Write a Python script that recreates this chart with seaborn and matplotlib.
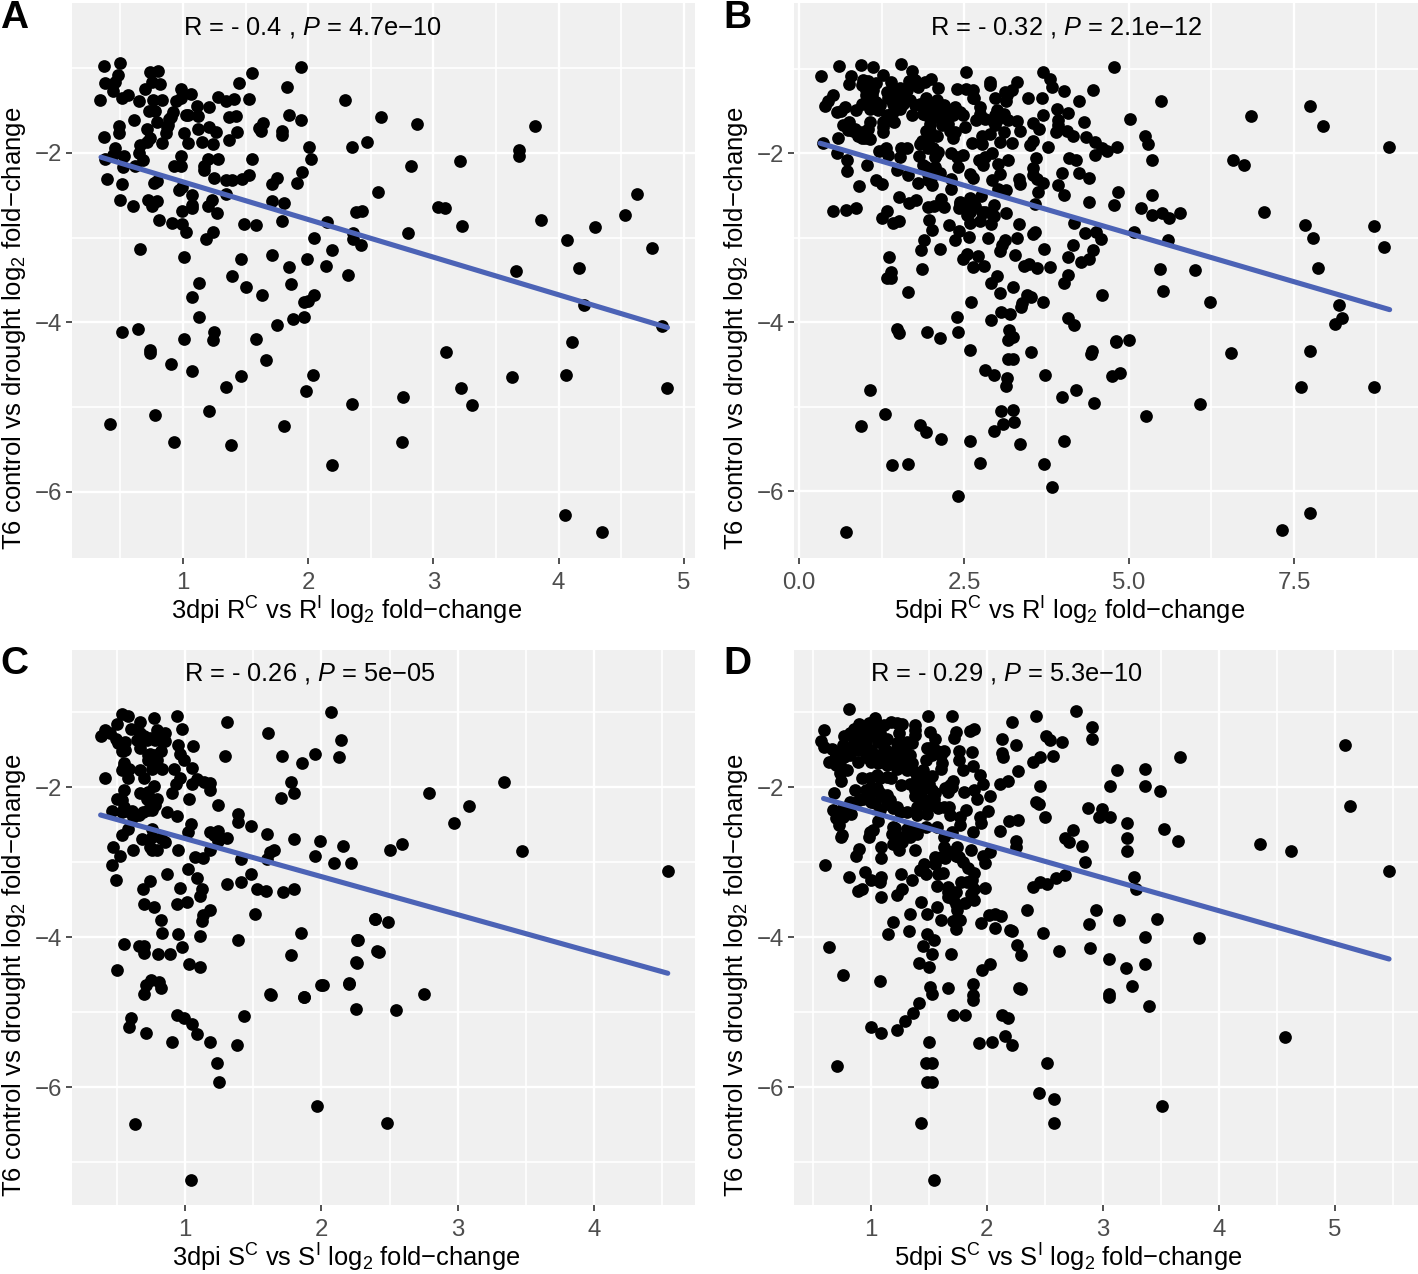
import numpy as np
import pandas as pd
import matplotlib
matplotlib.use("Agg")
import matplotlib.pyplot as plt
import seaborn as sns

a_points = [(0.365,-0.97),(0.50,-0.94),(0.48,-1.08),(0.74,-1.05),(0.80,-1.03),(0.38,-1.18),(0.46,-1.16),(0.44,-1.27),(0.75,-1.16),(0.82,-1.19),(0.70,-1.25),(0.98,-1.24),(1.06,-1.30),(0.34,-1.37),(0.51,-1.35),(0.56,-1.31),(0.65,-1.39),(0.76,-1.38),(0.83,-1.38),(0.98,-1.35),(0.94,-1.39),(1.11,-1.44),(1.21,-1.46),(1.28,-1.34),(1.34,-1.39),(1.41,-1.36),(1.53,-1.36),(1.45,-1.17),(1.55,-1.06),(1.83,-1.22),(1.94,-0.99),(2.29,-1.37),(2.58,-1.58),(1.85,-1.55),(1.94,-1.61),(0.73,-1.50),(0.78,-1.51),(0.92,-1.52),(1.02,-1.55),(1.04,-1.55),(1.12,-1.56),(0.89,-1.60),(0.79,-1.63),(0.61,-1.61),(0.49,-1.68),(0.49,-1.76),(0.71,-1.72),(0.87,-1.69),(0.86,-1.77),(1.01,-1.77),(1.12,-1.72),(1.21,-1.69),(1.26,-1.75),(1.37,-1.58),(1.42,-1.56),(1.43,-1.75),(1.64,-1.65),(1.61,-1.71),(1.62,-1.74),(1.79,-1.74),(1.79,-1.79),(0.37,-1.81),(0.74,-1.82),(0.71,-1.87),(0.66,-1.90),(0.83,-1.88),(1.04,-1.88),(1.15,-1.87),(1.24,-1.89),(1.37,-1.85),(2.01,-1.93),(2.35,-1.93),(2.47,-1.87),(0.46,-1.94),(0.65,-2.0),(0.44,-2.02),(0.98,-2.03),(0.53,-2.04),(0.38,-2.07),(0.68,-2.08),(1.20,-2.07),(1.28,-2.07),(1.55,-2.07),(2.02,-2.07),(0.52,-2.17),(0.62,-2.15),(0.98,-2.15),(0.93,-2.15),(1.17,-2.15),(1.17,-2.20),(1.95,-2.23),(0.39,-2.31),(0.51,-2.37),(1.25,-2.30),(1.34,-2.32),(1.39,-2.32),(1.47,-2.31),(1.53,-2.26),(1.75,-2.30),(1.71,-2.37),(1.91,-2.36),(0.79,-2.33),(0.77,-2.36),(0.99,-2.40),(0.97,-2.44),(2.56,-2.46),(1.07,-2.50),(1.34,-2.49),(0.50,-2.56),(0.60,-2.63),(0.72,-2.56),(0.79,-2.57),(0.75,-2.63),(1.23,-2.56),(1.71,-2.57),(1.81,-2.59),(1.07,-2.61),(1.07,-2.65),(1.20,-2.62),(0.99,-2.69),(1.27,-2.71),(2.43,-2.69),(2.38,-2.70),(0.81,-2.79),(0.91,-2.83),(0.99,-2.84),(1.02,-2.93),(1.49,-2.84),(1.58,-2.85),(1.79,-2.80),(2.15,-2.82),(1.24,-2.93),(1.18,-3.02),(2.36,-2.95),(2.05,-3.0),(2.36,-3.01),(2.42,-3.09),(2.19,-3.14),(0.66,-3.13),(1.01,-3.23),(1.46,-3.25),(1.71,-3.20),(1.99,-3.25),(1.85,-3.34),(2.14,-3.33),(2.32,-3.44),(1.39,-3.45),(1.13,-3.53),(1.50,-3.58),(1.86,-3.55),(1.07,-3.70),(1.63,-3.68),(2.05,-3.68),(1.97,-3.76),(2.0,-3.75),(1.13,-3.93),(1.75,-4.03),(1.88,-3.96),(1.97,-3.94),(0.51,-4.11),(0.64,-4.08),(1.01,-4.19),(1.25,-4.11),(1.24,-4.21),(1.58,-4.20),(0.74,-4.33),
(2.87,-1.66),(2.82,-2.15),(3.21,-2.09),(3.81,-1.68),(3.68,-1.96),(3.68,-2.03),(3.04,-2.64),(3.09,-2.65),(3.23,-2.86),(2.80,-2.94),(3.86,-2.79),(4.07,-3.03),(4.29,-2.87),(4.53,-2.73),(4.63,-2.48),(4.75,-3.12),(3.66,-3.39),(4.16,-3.36),(4.20,-3.79),(4.83,-4.04),(4.11,-4.23),(3.10,-4.35),(4.06,-4.62),(3.63,-4.64),(4.87,-4.77),(3.22,-4.77),(3.31,-4.98),(2.76,-4.88),(2.35,-4.96),(2.75,-5.41),(2.19,-5.68),(1.81,-5.22),(1.38,-5.45),(0.93,-5.41),(0.42,-5.20),(0.78,-5.09),(1.21,-5.04),(1.34,-4.76),(1.46,-4.63),(1.07,-4.57),(0.90,-4.49),(0.74,-4.36),(1.66,-4.44),(1.98,-4.81),(2.04,-4.62),(4.05,-6.27),(4.35,-6.47),(0.88,-1.67),(0.90,-1.57)]

b_points = [(0.34,-1.08),(0.60,-0.96),(0.94,-0.95),(1.12,-0.98),(1.55,-0.94),(1.71,-1.02),(1.27,-1.07),(0.79,-1.08),(0.76,-1.18),(0.97,-1.13),(1.05,-1.14),(0.95,-1.19),(1.01,-1.25),(1.16,-1.17),(1.40,-1.15),(1.67,-1.14),(1.76,-1.13),(2.0,-1.12),(1.91,-1.16),(1.81,-1.21),(2.53,-1.04),(2.11,-1.23),(2.39,-1.24),(2.53,-1.24),(2.64,-1.25),(2.89,-1.15),(2.90,-1.19),(3.31,-1.15),(3.22,-1.25),(3.12,-1.27),(2.97,-1.34),(3.69,-1.04),(3.81,-1.12),(3.83,-1.22),(4.02,-1.26),(4.46,-1.25),(4.78,-0.98),(3.47,-1.35),(3.68,-1.35),(4.25,-1.38),(3.13,-1.38),(2.65,-1.35),(0.52,-1.31),(0.44,-1.38),(0.40,-1.44),(0.70,-1.45),(0.58,-1.51),(0.64,-1.50),(0.87,-1.49),(0.96,-1.41),(1.07,-1.47),(1.20,-1.49),(1.10,-1.31),(1.33,-1.27),(1.35,-1.35),(1.45,-1.25),(1.53,-1.23),(1.63,-1.25),(1.45,-1.35),(1.56,-1.37),(1.68,-1.37),(1.93,-1.35),(1.83,-1.41),(2.09,-1.37),(1.96,-1.45),(2.19,-1.43),(2.37,-1.45),(2.24,-1.51),(2.74,-1.45),(3.0,-1.49),(3.10,-1.53),(3.91,-1.48),(4.07,-1.52),(3.69,-1.54),(1.43,-1.51),(1.53,-1.47),(1.71,-1.55),(1.93,-1.55),(2.11,-1.53),(2.34,-1.55),(2.48,-1.55),(2.68,-1.60),(2.82,-1.59),(2.97,-1.55),(3.17,-1.61),(3.31,-1.62),(3.55,-1.64),(3.93,-1.61),(4.32,-1.63),(1.36,-1.61),(1.44,-1.63),(1.07,-1.63),(0.76,-1.63),(0.66,-1.67),(0.85,-1.71),(0.74,-1.72),(1.05,-1.71),(1.28,-1.69),(1.27,-1.75),(1.98,-1.65),(2.16,-1.67),(2.26,-1.65),(2.52,-1.69),(2.97,-1.67),(3.64,-1.71),(3.89,-1.75),(3.93,-1.66),(4.06,-1.73),(4.15,-1.79),(3.35,-1.73),(3.10,-1.75),(2.90,-1.77),(2.77,-1.80),(2.36,-1.75),(1.93,-1.74),(2.09,-1.80),(2.34,-1.82),(0.90,-1.79),(1.0,-1.82),(1.07,-1.83),(0.95,-1.82),(0.59,-1.82),(4.35,-1.81),(4.49,-1.87),(3.55,-1.85),(3.50,-1.90),(3.05,-1.87),(3.22,-1.88),(2.78,-1.89),(2.62,-1.88),(1.86,-1.85),(1.96,-1.87),(4.82,-1.92),(3.77,-1.93),(4.59,-1.94),(4.66,-1.97),(4.49,-2.02),(0.37,-1.88),(0.58,-1.99),(1.21,-1.97),(1.32,-1.94),(1.35,-2.02),(1.55,-1.94),(1.64,-1.94),(1.53,-2.04),(1.96,-1.94),(2.11,-1.98),(2.06,-2.04),(1.82,-2.03),(2.30,-1.99),(2.49,-2.02),(2.39,-2.04),(2.92,-1.99),(2.82,-2.04),(2.72,-2.08),(3.16,-2.08),(3.59,-2.06),(4.09,-2.06),(4.20,-2.08),(0.72,-2.08),(1.03,-2.14),(0.73,-2.21),(1.48,-2.20),(1.65,-2.26),(1.88,-2.14),(2.06,-2.16),(1.96,-2.24),(2.14,-2.23),(2.41,-2.16),(2.79,-2.14),(3.01,-2.13),(2.59,-2.25),(3.05,-2.25),(2.92,-2.31),(3.54,-2.17),(3.54,-2.26),(3.60,-2.30),(3.99,-2.23),(4.25,-2.23),(4.40,-2.29),(2.63,-2.29),(3.33,-2.30),(3.35,-2.36),(3.70,-2.35),(3.93,-2.38),(4.02,-2.49),(3.62,-2.46),(1.17,-2.31),(1.25,-2.36),(0.91,-2.39),(1.81,-2.35),(2.01,-2.38),(2.31,-2.30),(2.31,-2.42),(3.02,-2.42),(3.14,-2.43),(1.52,-2.52),(1.78,-2.55),(1.67,-2.59),(1.96,-2.63),(2.04,-2.62),(2.15,-2.54),(2.20,-2.64),(2.76,-2.50),(2.59,-2.53),(2.44,-2.57),(2.43,-2.65),(2.67,-2.62),(2.95,-2.61),(2.77,-2.69),(3.57,-2.60),(4.39,-2.58),(4.77,-2.61),(4.84,-2.46),(0.52,-2.68),(0.71,-2.67),(0.87,-2.65),(1.34,-2.68),(1.26,-2.77),(1.43,-2.82),(1.51,-2.80),(2.54,-2.73),(2.59,-2.82),(2.74,-2.80),(2.92,-2.72),(2.91,-2.84),(3.13,-2.71),(1.97,-2.79),(2.01,-2.91),(2.27,-2.85),(3.33,-2.84),(4.16,-2.83),(2.42,-2.92),(2.58,-2.99),(2.37,-3.02),(2.87,-3.0),(3.30,-3.0),(3.54,-2.95),(3.58,-2.93),(4.33,-2.94),(4.50,-2.93),(4.57,-3.01),(1.89,-3.03),(1.85,-3.14),(2.14,-3.13),(3.12,-3.02),(3.08,-3.08),(3.05,-3.15),(3.27,-3.20),(3.71,-3.13),(4.15,-3.08),(4.45,-3.14),(4.07,-3.23),(4.39,-3.25),(4.28,-3.29),(1.37,-3.23),(2.54,-3.19),(2.49,-3.25),(2.71,-3.22),(2.63,-3.35),(2.81,-3.33),(3.41,-3.33),(3.48,-3.31),(3.61,-3.36),(3.81,-3.34),(1.40,-3.40),(1.34,-3.47),(1.39,-3.48),(1.87,-3.37),(3.0,-3.45),(2.91,-3.53),(4.07,-3.44),(4.02,-3.54),(1.65,-3.64),(3.24,-3.58),(3.05,-3.65),(3.45,-3.68),(3.52,-3.70),(3.38,-3.77),(3.36,-3.82),(3.70,-3.76),(4.59,-3.68),(2.61,-3.76),(2.39,-3.94),(2.91,-3.97),(3.06,-3.88),(3.19,-3.90),(4.07,-3.95),(4.17,-4.03),(3.18,-4.09),(3.25,-4.17),(3.16,-4.21),(1.48,-4.08),(1.52,-4.13),(1.94,-4.12),(2.14,-4.19),(2.41,-4.11),(4.81,-4.23),(2.59,-4.33),(3.51,-4.35),(4.44,-4.34),
(5.02,-1.59),(5.24,-1.79),(5.29,-1.89),(5.35,-2.08),(5.48,-1.38),(6.85,-1.56),(6.58,-2.08),(6.74,-2.14),(7.74,-1.44),(7.94,-1.68),(8.94,-1.93),(7.05,-2.69),(7.67,-2.85),(7.79,-3.0),(8.71,-2.86),(8.86,-3.11),(7.86,-3.36),(6.0,-3.38),(6.23,-3.76),(5.47,-3.37),(5.52,-3.63),(8.18,-3.80),(8.23,-3.95),(8.12,-4.02),(7.74,-4.34),(6.55,-4.36),(7.61,-4.76),(8.71,-4.77),(6.08,-4.97),(5.26,-5.11),(5.0,-4.21),(4.8,-4.22),(4.86,-4.60),(4.74,-4.64),(4.42,-4.38),(4.2,-4.80),(3.98,-4.89),(4.47,-4.96),(4.02,-5.41),(3.71,-5.68),(3.83,-5.95),(7.74,-6.26),(7.32,-6.46),(2.41,-6.06),(0.71,-6.48),(1.41,-5.69),(1.65,-5.68),(0.94,-5.23),(1.30,-5.08),(1.08,-4.80),(1.83,-5.21),(1.92,-5.30),(2.15,-5.38),(2.59,-5.40),(2.74,-5.67),(2.95,-5.29),(3.09,-5.20),(3.24,-5.04),(3.26,-5.18),(3.35,-5.44),(3.06,-5.05),(3.73,-4.62),(3.14,-4.75),(3.15,-4.66),(2.82,-4.57),(2.95,-4.62),(3.17,-4.44),(3.24,-4.43),(5.18,-2.65),(5.35,-2.73),(5.5,-2.71),(5.61,-2.76),(5.78,-2.71),(5.59,-3.03),(5.08,-2.93),(5.35,-2.49),
(0.97,-1.19),(1.07,-1.19),(1.12,-1.25),(1.02,-1.31),(1.17,-1.39),(1.10,-1.41),(1.22,-1.43),(1.38,-1.31),(1.43,-1.41),(1.53,-1.31),(1.58,-1.41),(1.48,-1.29),(1.76,-1.43),(1.88,-1.41),(2.03,-1.43),(2.14,-1.47),(2.29,-1.49),(2.44,-1.51),(2.01,-1.49),(2.24,-1.57),(2.06,-1.57),(1.88,-1.53),(1.98,-1.73),(2.19,-1.65),(2.29,-1.73),(1.33,-1.55),(1.28,-1.63),(0.95,-1.75),(1.02,-1.77),(0.82,-1.73),(1.83,-1.89),(2.03,-1.94),(2.44,-2.60),(2.54,-2.62),(2.64,-2.58),(2.59,-2.70),(2.82,-2.70),(2.95,-2.74),(2.64,-1.35),(2.74,-1.53),(2.92,-1.61),(3.0,-1.61),(3.15,-1.31),(2.08,-2.02),(1.93,-2.16),(2.03,-2.26),(1.96,-2.32)]

c_points = [(0.54,-1.02),(0.58,-1.05),(0.77,-1.08),(0.94,-1.05),(1.31,-1.13),(2.07,-0.99),(0.50,-1.15),(0.67,-1.13),(0.60,-1.22),(0.98,-1.22),(0.41,-1.24),(0.45,-1.28),(0.38,-1.32),(0.79,-1.23),(0.85,-1.28),(0.67,-1.28),(1.61,-1.27),(2.14,-1.37),(0.65,-1.37),(0.72,-1.37),(0.78,-1.37),(0.85,-1.38),(0.49,-1.35),(0.56,-1.39),(0.51,-1.41),(0.67,-1.48),(0.95,-1.43),(1.06,-1.45),(0.54,-1.52),(0.56,-1.50),(0.82,-1.52),(0.74,-1.55),(0.96,-1.55),(1.29,-1.58),(1.71,-1.58),(1.95,-1.55),(1.86,-1.67),(2.13,-1.60),(0.73,-1.63),(0.79,-1.63),(0.99,-1.63),(0.55,-1.68),(0.76,-1.75),(0.83,-1.75),(0.92,-1.75),(1.05,-1.74),(0.54,-1.77),(0.59,-1.75),(0.67,-1.77),(0.58,-1.88),(0.70,-1.87),(0.41,-1.88),(0.96,-1.87),(1.09,-1.89),(0.93,-1.95),(1.05,-1.96),(1.14,-1.93),(1.18,-1.94),(1.78,-1.93),(0.77,-1.98),(1.18,-2.04),(0.55,-2.04),(0.67,-2.08),(0.73,-2.06),(0.90,-2.07),(1.80,-2.08),(1.70,-2.14),(1.03,-2.15),(0.50,-2.16),(0.79,-2.15),(0.72,-2.15),(0.54,-2.17),(0.78,-2.24),(1.24,-2.24),(0.73,-2.30),(0.55,-2.26),(0.46,-2.31),(0.61,-2.31),(0.54,-2.33),(0.69,-2.33),(0.87,-2.33),(0.94,-2.38),(0.62,-2.39),(1.39,-2.36),(1.39,-2.46),(1.04,-2.49),(1.48,-2.51),(1.02,-2.59),(0.58,-2.56),(0.54,-2.64),(0.76,-2.55),(1.60,-2.62),(1.18,-2.59),(1.24,-2.58),(1.21,-2.64),(1.31,-2.67),(0.68,-2.69),(0.76,-2.66),(0.82,-2.68),(0.85,-2.73),(1.80,-2.69),(1.99,-2.72),(2.16,-2.78),(0.47,-2.79),(0.62,-2.83),(0.74,-2.80),(0.79,-2.83),(0.76,-2.84),(0.95,-2.84),(1.18,-2.83),(1.24,-2.71),(1.65,-2.84),(1.62,-2.86),(0.52,-2.91),(1.07,-2.93),(1.13,-2.94),(1.41,-2.95),(1.60,-2.95),(1.95,-2.91),(0.46,-3.03),(2.09,-3.01),(2.22,-3.01),(1.02,-3.09),(0.87,-3.16),(1.09,-3.21),(1.48,-3.15),(0.49,-3.24),(0.74,-3.25),(0.69,-3.35),(0.96,-3.34),(1.31,-3.29),(1.41,-3.26),(1.53,-3.35),(1.59,-3.38),(1.72,-3.39),(1.80,-3.35),(1.12,-3.36),(1.11,-3.45),(0.70,-3.55),(0.77,-3.59),(0.94,-3.55),(1.01,-3.53),(1.18,-3.63),(1.13,-3.70),(1.12,-3.78),(1.51,-3.69),(2.39,-3.76),(0.82,-3.77),(0.83,-3.94),(0.95,-3.96),(1.11,-3.98),(1.85,-3.94),(1.39,-4.04),(2.26,-4.03),(0.55,-4.09),(0.66,-4.12),(0.70,-4.12),(0.70,-4.21),(0.80,-4.22),(0.89,-4.22),(0.98,-4.13),(1.78,-4.23),(2.41,-4.18),(2.26,-4.34),(0.50,-4.43),(1.03,-4.36),(1.11,-4.39),(2.20,-4.62),(2.0,-4.64),(0.75,-4.57),(0.71,-4.63),(0.81,-4.60),(0.82,-4.67),(0.70,-4.76),(1.63,-4.77),(1.87,-4.80),
(2.79,-2.08),(2.97,-2.47),(3.08,-2.25),(3.34,-1.93),(3.47,-2.85),(4.54,-3.11),(2.59,-2.75),(2.50,-2.83),(2.39,-3.76),(2.49,-3.79),(2.27,-4.03),(2.42,-4.19),(2.25,-4.33),(2.20,-4.61),(2.25,-4.96),(2.55,-4.97),(2.75,-4.76),(2.01,-4.63),(1.87,-4.80),(1.62,-4.76),(1.43,-5.05),(1.38,-5.44),(1.18,-5.40),(1.05,-5.16),(0.99,-5.08),(1.09,-5.29),(0.90,-5.39),(0.94,-5.03),(0.71,-5.28),(0.59,-5.19),(0.60,-5.08),(1.23,-5.68),(1.25,-5.93),(0.63,-6.49),(1.97,-6.25),(2.48,-6.47),(1.04,-7.24),
(0.70,-1.32),(0.74,-1.34),(0.82,-1.37),(0.55,-1.50),(0.73,-1.57),(0.78,-1.57),(0.76,-1.66),(0.79,-1.72),(0.55,-1.72),(0.76,-2.30),(0.78,-2.17),(0.57,-2.31),(0.66,-2.37)]

d_points = [(0.81,-0.96),(1.03,-1.08),(1.49,-1.05),(1.70,-1.05),(2.22,-1.13),(2.42,-1.05),(2.77,-0.98),(2.91,-1.20),(2.91,-1.36),(0.59,-1.23),(0.57,-1.38),(0.59,-1.46),(0.66,-1.49),(0.77,-1.32),(0.85,-1.22),(0.90,-1.15),(0.98,-1.14),(0.93,-1.28),(1.0,-1.25),(1.08,-1.28),(1.17,-1.13),(1.27,-1.15),(1.38,-1.17),(1.38,-1.30),(1.24,-1.28),(1.14,-1.35),(1.06,-1.39),(0.88,-1.41),(0.96,-1.39),(0.76,-1.43),(0.82,-1.48),(0.89,-1.50),(0.75,-1.52),(1.51,-1.26),(1.55,-1.36),(1.73,-1.26),(1.72,-1.34),(1.89,-1.22),(1.85,-1.25),(2.13,-1.36),(2.25,-1.44),(2.13,-1.54),(2.14,-1.59),(2.51,-1.31),(2.54,-1.37),(2.65,-1.39),(2.57,-1.58),(2.46,-1.60),(2.40,-1.66),(2.27,-1.78),(1.48,-1.48),(1.57,-1.52),(1.63,-1.52),(1.76,-1.52),(1.87,-1.53),(1.76,-1.63),(1.47,-1.63),(1.61,-1.67),(1.60,-1.76),(1.35,-1.41),(1.29,-1.48),(1.21,-1.52),(1.11,-1.50),(1.0,-1.50),(1.0,-1.66),(1.11,-1.61),(1.19,-1.63),(1.28,-1.61),(1.35,-1.68),(0.89,-1.66),(0.64,-1.66),(0.70,-1.70),(0.79,-1.77),(0.73,-1.81),(0.74,-1.92),(0.92,-1.88),(0.99,-1.88),(1.08,-1.88),(1.17,-1.87),(1.22,-1.75),(1.31,-1.77),(1.40,-1.88),(1.45,-1.86),(1.53,-1.85),(1.79,-1.77),(1.88,-1.72),(1.94,-1.83),(1.97,-1.95),(2.11,-1.95),(2.18,-1.92),(2.46,-1.98),(1.71,-1.91),(1.26,-1.97),(1.34,-1.95),(0.68,-2.07),(0.86,-2.03),(0.98,-2.10),(1.05,-2.01),(0.93,-2.15),(1.0,-2.19),(1.09,-2.12),(1.16,-2.17),(1.38,-2.04),(1.53,-2.04),(1.66,-2.06),(1.70,-2.0),(1.80,-2.06),(1.89,-2.04),(1.91,-2.15),(2.03,-2.11),(1.42,-2.15),(1.54,-2.15),(0.82,-2.19),(0.67,-2.30),(0.73,-2.33),(0.83,-2.35),(0.76,-2.39),(0.72,-2.50),(1.19,-2.28),(1.31,-2.33),(1.40,-2.37),(1.48,-2.35),(1.08,-2.30),(1.58,-2.28),(1.67,-2.26),(1.68,-2.37),(1.82,-2.30),(1.77,-2.39),(1.77,-2.50),(2.01,-2.31),(1.94,-2.40),(1.95,-2.47),(2.19,-2.45),(2.27,-2.44),(2.11,-2.58),(1.88,-2.59),(2.42,-2.20),(2.45,-2.22),(2.50,-2.39),(2.87,-2.28),(2.97,-2.39),(2.74,-2.57),(2.67,-2.67),(2.71,-2.73),(2.82,-2.78),(2.85,-3.0),(1.06,-2.45),(1.21,-2.54),(1.18,-2.62),(1.31,-2.55),(1.40,-2.62),(1.47,-2.53),(1.57,-2.53),(1.02,-2.57),(0.98,-2.66),(0.74,-2.66),(1.09,-2.79),(0.90,-2.82),(0.87,-2.91),(1.09,-2.94),(1.19,-2.75),(1.24,-2.84),(1.27,-2.73),(1.34,-2.66),(1.38,-2.84),(1.63,-2.66),(1.70,-2.59),(1.63,-2.79),(1.74,-2.79),(1.86,-2.83),(2.25,-2.71),(2.25,-2.79),(2.03,-2.86),(1.97,-2.91),(1.98,-3.01),(1.55,-2.93),(1.64,-2.94),(1.73,-2.91),(1.79,-3.0),(1.55,-3.02),(1.46,-3.02),(1.42,-3.10),(1.47,-3.16),(1.58,-3.16),(1.62,-3.14),(1.84,-3.08),(1.89,-3.14),(0.60,-3.03),(0.95,-3.13),(0.81,-3.20),(1.0,-3.23),(1.09,-3.20),(1.08,-3.26),(1.26,-3.15),(1.35,-3.24),(0.92,-3.36),(0.89,-3.38),(1.09,-3.46),(1.27,-3.36),(1.22,-3.44),(1.57,-3.32),(1.66,-3.33),(1.73,-3.39),(1.66,-3.46),(1.78,-3.26),(1.87,-3.24),(1.89,-3.35),(1.98,-3.34),(1.89,-3.50),(1.81,-3.54),(1.73,-3.55),(1.74,-3.64),(1.43,-3.53),(1.57,-3.59),(1.34,-3.69),(1.48,-3.69),(1.60,-3.77),(1.19,-3.80),(1.33,-3.91),(1.15,-3.96),(1.71,-3.78),(1.77,-3.77),(1.73,-3.89),(1.95,-3.81),(2.02,-3.70),(2.07,-3.69),(2.12,-3.72),(2.07,-3.87),(2.20,-3.90),(2.22,-3.92),(2.35,-3.63),(2.48,-3.94),(2.40,-3.33),(2.46,-3.26),(2.52,-3.29),(2.60,-3.21),(2.67,-3.17),(2.94,-3.63),(2.88,-3.82),(1.48,-3.96),(1.54,-4.04),(1.45,-4.12),(1.53,-4.22),(1.69,-4.22),(0.64,-4.13),(2.26,-4.10),(2.29,-4.23),(2.62,-4.18),(2.89,-4.14),(0.76,-4.50),(1.08,-4.58),(1.41,-4.34),(1.50,-4.39),(1.51,-4.66),(1.53,-4.76),(1.66,-4.67),(1.88,-4.62),(1.88,-4.77),(1.96,-4.43),(2.03,-4.35),(2.29,-4.69),(1.41,-4.87),
(3.12,-1.77),(3.67,-1.6),(3.53,-2.56),(3.65,-2.71),(4.36,-2.75),(4.62,-2.85),(5.47,-3.11),(5.09,-1.43),(5.13,-2.25),(3.83,-4.01),(3.47,-3.75),(3.36,-3.99),(3.14,-3.77),(3.29,-3.35),(3.27,-3.19),(3.05,-4.29),(3.2,-4.41),(3.36,-4.35),(3.25,-4.65),(3.05,-4.76),(3.05,-4.80),(3.40,-4.91),(4.57,-5.33),(3.51,-6.25),(2.52,-5.68),(2.45,-6.07),(2.58,-6.15),(2.58,-6.47),(3.06,-2.40),(2.99,-2.29),(3.21,-2.47),(3.21,-2.68),(3.21,-2.85),(3.06,-1.98),(3.36,-1.75),(3.36,-1.98),(3.49,-2.05),
(0.71,-5.71),(1.0,-5.19),(1.09,-5.27),(1.22,-5.23),(1.29,-5.12),(1.36,-5.01),(1.43,-6.48),(1.54,-7.24),(1.47,-5.67),(1.53,-5.67),(1.48,-5.93),(1.53,-5.93),(1.5,-5.39),(1.93,-5.41),(2.04,-5.39),(2.13,-5.03),(2.18,-5.07),(2.22,-5.44),(2.16,-5.32),(2.28,-4.68),(1.81,-5.03),(1.88,-4.84),(1.71,-5.04),
(0.82,-1.28),(0.88,-1.25),(0.93,-1.19),(0.99,-1.21),(0.76,-1.54),(0.82,-1.57),(0.85,-1.37),(0.92,-1.37),(0.98,-1.32),(1.03,-1.10),(1.06,-1.19),(1.11,-1.17),(1.22,-1.14),(1.31,-1.39),(1.38,-1.23),(1.22,-1.41),(1.11,-1.41),(0.98,-1.50),(0.96,-1.59),(1.04,-1.57),(1.14,-1.52),(1.25,-1.54),(1.34,-1.57),(1.24,-1.68),(1.14,-1.70),(1.06,-1.68),(1.28,-1.72),(1.38,-1.79),(1.45,-1.77),(1.51,-1.48),(1.53,-1.57),(1.60,-1.57),(1.55,-1.50),(0.77,-1.59),(0.69,-1.61),(0.73,-1.70),(1.05,-1.83),(1.14,-1.86),(1.0,-1.99),(1.08,-2.08),(1.14,-2.10),(0.96,-2.04),(0.90,-2.17),(1.03,-2.21),(1.14,-2.22),(1.22,-2.26),(1.25,-2.33),(1.38,-2.12),(1.44,-2.04),(1.47,-2.17),(1.55,-2.08),(1.40,-2.26),(1.48,-2.24),(1.42,-1.90),(1.50,-1.95),(1.64,-2.01),(1.68,-1.97),(1.63,-2.26),(1.55,-2.24),(0.73,-2.37),(0.76,-2.28),(0.70,-2.41),(1.31,-2.62),(1.37,-2.55),(1.22,-2.75),(1.25,-2.66),(1.19,-2.53),(0.99,-2.59),(0.75,-2.64),(1.60,-2.93),(1.68,-2.86),(1.76,-2.93),(1.86,-3.42),(1.83,-3.26),(1.74,-3.75),(1.66,-3.40),(1.71,-3.49)]

fit_x = {"A": [0.345, 4.87], "B": [0.32, 8.95], "C": [0.38, 4.54], "D": [0.59, 5.47]}
fit_y = {"A": [-2.05, -4.06], "B": [-1.88, -3.85], "C": [-2.37, -4.48], "D": [-2.15, -4.29]}

panels = ["A", "B", "C", "D"]
points = {"A": a_points, "B": b_points, "C": c_points, "D": d_points}
x_labels = {
    "A": "3dpi R$^{\\mathrm{C}}$ vs R$^{\\mathrm{I}}$ log$_{2}$ fold\u2212change",
    "B": "5dpi R$^{\\mathrm{C}}$ vs R$^{\\mathrm{I}}$ log$_{2}$ fold\u2212change",
    "C": "3dpi S$^{\\mathrm{C}}$ vs S$^{\\mathrm{I}}$ log$_{2}$ fold\u2212change",
    "D": "5dpi S$^{\\mathrm{C}}$ vs S$^{\\mathrm{I}}$ log$_{2}$ fold\u2212change",
}
r_values = {"A": "0.4", "B": "0.32", "C": "0.26", "D": "0.29"}
p_values = {"A": "4.7e\u221210", "B": "2.1e\u221212", "C": "5e\u221205", "D": "5.3e\u221210"}
x_ticks = {"A": [1, 2, 3, 4, 5], "B": [0, 2.5, 5, 7.5], "C": [1, 2, 3, 4], "D": [1, 2, 3, 4, 5]}
x_tick_labels = {"A": ["1", "2", "3", "4", "5"], "B": ["0.0", "2.5", "5.0", "7.5"],
                 "C": ["1", "2", "3", "4"], "D": ["1", "2", "3", "4", "5"]}
x_minor = {"A": [0.5, 1.5, 2.5, 3.5, 4.5], "B": [1.25, 3.75, 6.25, 8.75],
           "C": [0.5, 1.5, 2.5, 3.5, 4.5], "D": [0.5, 1.5, 2.5, 3.5, 4.5, 5.5]}
y_ticks = [-2, -4, -6]
y_tick_labels = ["\u22122", "\u22124", "\u22126"]
y_minor = {"A": [-1, -3, -5], "B": [-1, -3, -5], "C": [-1, -3, -5, -7], "D": [-1, -3, -5, -7]}
x_lims = {"A": (0.113, 5.09), "B": (-0.076, 9.38), "C": (0.17, 4.74), "D": (0.335, 5.72)}
y_lims = {"A": (-6.78, -0.23), "B": (-6.79, -0.22), "C": (-7.57, -0.17), "D": (-7.57, -0.17)}
y_label = "T6 control vs drought log$_{2}$ fold\u2212change"

W, H = 1418, 1274
boxes = {"A": (72, 3, 695, 558), "B": (794, 3, 1418, 558),
         "C": (72, 650, 695, 1205), "D": (794, 650, 1418, 1205)}
title_px = {"A": 312, "B": 1066, "C": 310, "D": 1006}
title_py = {"A": 27, "B": 27, "C": 674, "D": 674}
letter_px = {"A": 0, "B": 723, "C": 0, "D": 723}
letter_py = {"A": 18, "B": 18, "C": 664, "D": 664}
xlabel_px = {"A": 347, "B": 1070, "C": 346, "D": 1068}
ylabel_py = {"A": 328, "B": 328, "C": 975, "D": 975}

sns.set_theme(style="darkgrid")
plt.rcParams["font.family"] = ["Liberation Sans", "DejaVu Sans"]
plt.rcParams["mathtext.fontset"] = "custom"
plt.rcParams["mathtext.rm"] = "Liberation Sans"
plt.rcParams["mathtext.it"] = "Liberation Sans:italic"
plt.rcParams["mathtext.default"] = "rm"

fig = plt.figure(figsize=(W / 100, H / 100), dpi=100, facecolor="white")
for key in panels:
    l, t, r, b = boxes[key]
    ax = fig.add_axes([l / W, 1 - b / H, (r - l) / W, (b - t) / H])
    ax.set_facecolor("#F0F0F0")
    for s in ax.spines.values():
        s.set_visible(False)
    df = pd.DataFrame(points[key], columns=["x", "y"])
    ax.set_axisbelow(True)
    sns.scatterplot(data=df, x="x", y="y", ax=ax, color="black", s=84, linewidth=0, alpha=1, zorder=3)
    sns.lineplot(x=fit_x[key], y=fit_y[key], ax=ax, color="#4C63B6", linewidth=3.7, zorder=4, errorbar=None)
    ax.set_xlim(*x_lims[key])
    ax.set_ylim(*y_lims[key])
    ax.set_xticks(x_ticks[key])
    ax.set_xticklabels(x_tick_labels[key])
    ax.set_yticks(y_ticks)
    ax.set_yticklabels(y_tick_labels)
    ax.set_xticks(x_minor[key], minor=True)
    ax.set_yticks(y_minor[key], minor=True)
    ax.grid(True, which="major", color="white", linewidth=1.7)
    ax.grid(True, which="minor", color="white", linewidth=1.2)
    ax.tick_params(axis="both", which="major", length=4.3, width=1.2, color="#333333", left=True, bottom=True,
                   labelsize=17.3, labelcolor="#4D4D4D")
    ax.tick_params(axis="x", which="major", pad=6)
    ax.tick_params(axis="y", which="major", pad=3)
    ax.tick_params(axis="both", which="minor", length=0)
    ax.set_xlabel(x_labels[key], fontsize=18.4, color="black", labelpad=0)
    ax.set_ylabel(y_label, fontsize=18.5, color="black", labelpad=5)
    ax.xaxis.label.set_x((xlabel_px[key] - l) / (r - l))
    ax.yaxis.label.set_y((b - ylabel_py[key]) / (b - t))
    fig.text(title_px[key] / W, 1 - title_py[key] / H,
             f"R = - {r_values[key]} , $\\mathit{{P}}$ = {p_values[key]}",
             ha="center", va="center", fontsize=18.3, color="black")
    fig.text(letter_px[key] / W, 1 - letter_py[key] / H, key, ha="left", va="center",
             fontsize=28, fontweight="bold", color="black")

fig.savefig("out.png", dpi=100)
